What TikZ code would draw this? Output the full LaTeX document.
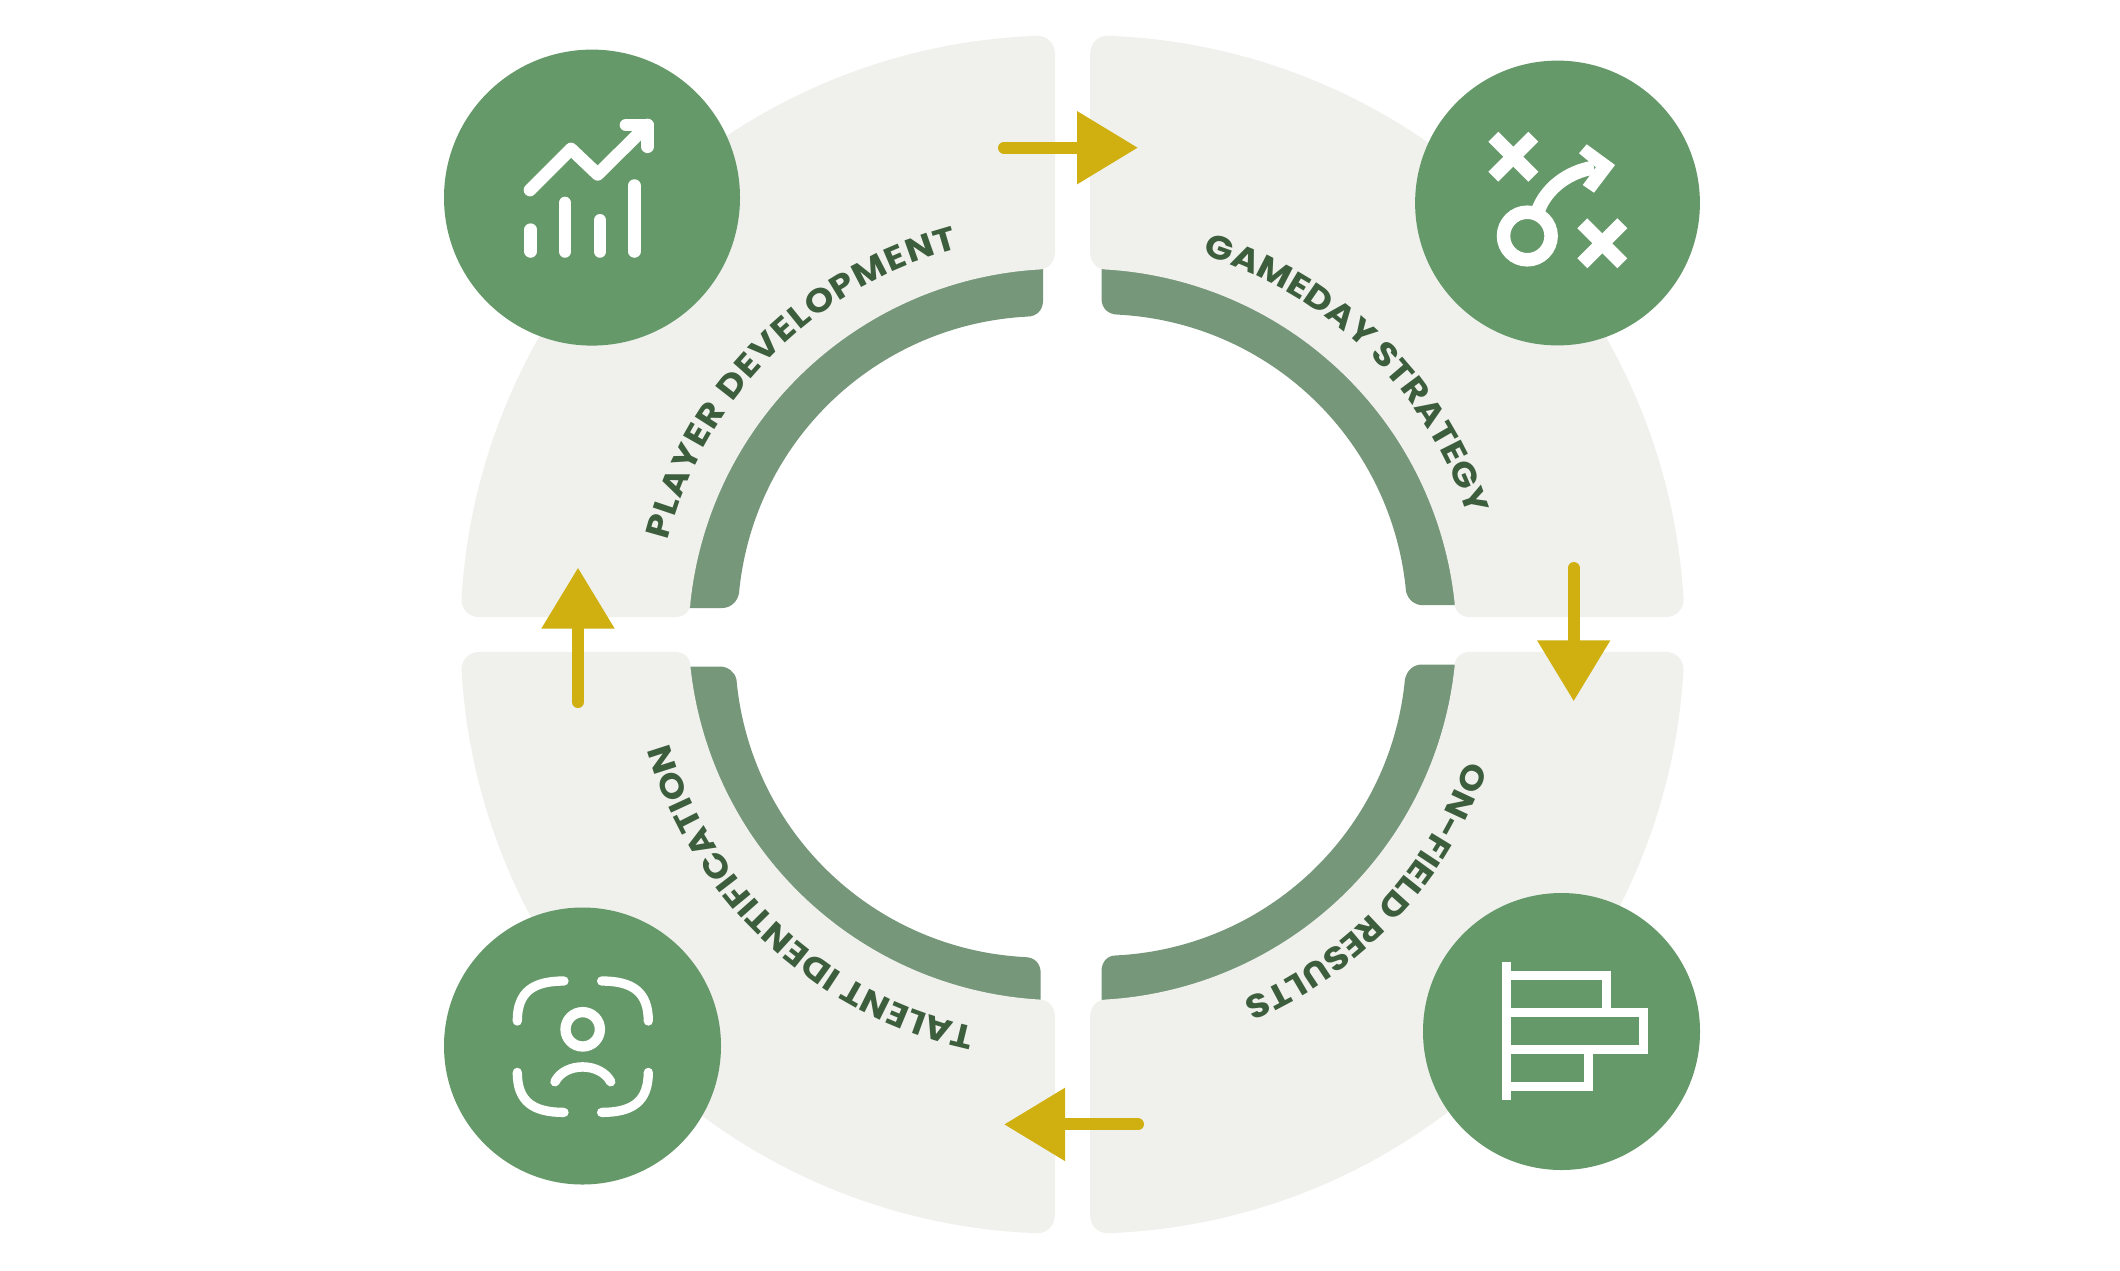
\documentclass[tikz,border=0pt]{standalone}
\usepackage{fontspec}
\usetikzlibrary{arrows.meta,decorations.text}
\newfontfamily\lab[FakeStretch=1.12]{Poppins}
\definecolor{palec}{HTML}{F0F1ED}
\definecolor{darkc}{HTML}{76977A}
\definecolor{circc}{HTML}{659969}
\definecolor{textc}{HTML}{3D5E3D}
\definecolor{goldc}{HTML}{CFB010}
\tikzset{
  arclabel/.style={decorate,decoration={text along path,text align={fit to path},text={|\lab\bfseries\fontsize{33pt}{33pt}\selectfont\color{textc}|#1}}},
  flow/.style={draw=goldc,fill=goldc,line width=12pt,line cap=round,-{Triangle[length=61pt,width=70pt]}},
  icon/.style={draw=white,line width=#1,line cap=round,line join=round},
  iconflat/.style={draw=white,line width=#1,line cap=butt,line join=miter},
}
\newcommand{\paleq}[2]{%
 \fill[palec,shift={(1072.5,634.5)},xscale=#1,yscale=#2]
  (-592.5,-17.4) .. controls (-603.6,-17.4) and (-611,-25) .. (-611,-35.2)
  -- plot[domain=176.73:92.06,samples=70] ({-14+598*cos(\x)},{-1.1-598*sin(\x)})
  .. controls (-24.7,-598.6) and (-17.5,-591) .. (-17.5,-579)
  -- (-17.5,-383.2) .. controls (-17.5,-372.6) and (-23.8,-365.2) .. (-33.3,-365)
  -- plot[domain=93.4:173.77,samples=70] ({-11.2+373*cos(\x)},{7.3-373*sin(\x)})
  .. controls (-381.5,-23.7) and (-388,-17.4) .. (-398,-17.4) -- cycle;}
% sx sy xedge yedge R cx cy a1 a2
\newcommand{\darkq}[9]{%
 \pgfmathsetmacro{\pax}{#6+#5*cos(#8)}\pgfmathsetmacro{\pay}{#7-#5*sin(#8)}%
 \pgfmathsetmacro{\pbx}{#6+#5*cos(#9)}\pgfmathsetmacro{\pby}{#7-#5*sin(#9)}%
 \pgfmathsetmacro{\qax}{-0.6*#3+0.4*\pax}%
 \pgfmathsetmacro{\qby}{0.4*\pby-0.6*#4}%
 \fill[darkc,shift={(1072.5,634.5)},xscale=#1,yscale=#2]
  (-#3,-379) -- (-#3,\pay-16) .. controls (-#3,\pay-6.4) and (\qax,\pay) .. (\pax,\pay)
  -- plot[domain=#8:#9,samples=70] ({#6+#5*cos(\x)},{#7-#5*sin(\x)})
  .. controls (\pbx-1.8,\qby) and (\pbx-8.6,-#4) .. (\pbx-17,-#4) -- (-397,-#4) -- (-330,-330) -- cycle;}
\newcommand{\bracket}[2]{%
 \draw[icon=9.3pt,shift={(582.8,1046.7)},xscale=#1,yscale=#2]
  (-18.8,-65.7) .. controls (-49.5,-65.7) and (-65.5,-55) .. (-65.5,-25.7);}
\begin{document}
\begin{tikzpicture}[x=1pt,y=-1pt]
\useasboundingbox (0,0) rectangle (2120,1270);
\fill[white] (0,0) rectangle (2120,1270);
% dark bands
\darkq{1}{1}{29.5}{26.5}{305}{-29.8}{-13.3}{92.95}{174.75}
\darkq{-1}{1}{29}{29.3}{305}{-29.8}{-15.3}{92.95}{174.75}
\darkq{1}{-1}{31.8}{32}{305.5}{-31.8}{-17.5}{92.95}{174.84}
\darkq{-1}{-1}{29}{30}{305.3}{-28.5}{-16}{92.8}{174.55}
% pale quadrants
\paleq{1}{1}\paleq{-1}{1}\paleq{1}{-1}\paleq{-1}{-1}
% labels
\path[arclabel={PLAYER DEVELOPMENT}] plot[domain=165.8:104.5,samples=90] ({1060+404.5*cos(\x)},{640-404.5*sin(\x)});
\path[arclabel={GAMEDAY STRATEGY}] plot[domain=73:18,samples=90] ({1085+402.5*cos(\x)},{640-402.5*sin(\x)});
\path[arclabel={ON-FIELD RESULTS}] plot[domain=-19:-66,samples=90] ({1085+403*cos(\x)},{629-403*sin(\x)});
\path[arclabel={TALENT IDENTIFICATION}] plot[domain=-102:-163.8,samples=90] ({1060+407*cos(\x)},{629-407*sin(\x)});
% flow arrows
\coordinate (t1) at (1004,147.7);\coordinate (t2) at (1138,147.7);
\coordinate (r1) at (1573.7,568);\coordinate (r2) at (1573.7,701.3);
\coordinate (b1) at (1138,1124.4);\coordinate (b2) at (1004,1124.4);
\coordinate (l1) at (578,702);\coordinate (l2) at (578,567.6);
\draw[flow] (t1) -- (t2);
\draw[flow] (r1) -- (r2);
\draw[flow] (b1) -- (b2);
\draw[flow] (l1) -- (l2);
% circles
\fill[circc] (592,197.6) circle [radius=148pt];
\fill[circc] (1557.5,203) circle [radius=142.4pt];
\fill[circc] (582.5,1046) circle [radius=138.5pt];
\fill[circc] (1561.5,1031.5) circle [radius=138.5pt];
% icon: growth chart
\draw[icon=12.7pt] (530.7,229.7) -- (530.7,251.4);
\draw[icon=12.7pt] (565,203) -- (565,251.4);
\draw[icon=12.7pt] (600,220.3) -- (600,251.4);
\draw[icon=12.7pt] (634.3,185.6) -- (634.3,251.4);
\draw[icon=12.7pt] (530,190) -- (571,149) -- (597.7,174.3) -- (647.5,125);
\draw[icon=12.7pt] (626,125) -- (647.5,125) -- (647.5,146.7);
% icon: play diagram
\draw[iconflat=14pt] (1493.3,136.7) -- (1533.3,176.7);
\draw[iconflat=14pt] (1493.3,176.7) -- (1533.3,136.7);
\draw[iconflat=14pt] (1582.3,223.3) -- (1622.3,263.3);
\draw[iconflat=14pt] (1582.3,263.3) -- (1622.3,223.3);
\draw[white,line width=13.5pt] (1527.3,236) circle [radius=23.8pt];
\draw[iconflat=14pt] (1538.7,209) .. controls (1546,190) and (1566,172) .. (1594,167.5);
\fill[white] (1586.7,144.3) -- (1615,165) -- (1594,192.7) -- (1582.7,185) -- (1596,167.3) -- (1579,153.3) -- cycle;
% icon: face scan
\bracket{1}{1}\bracket{-1}{1}\bracket{1}{-1}\bracket{-1}{-1}
\draw[white,line width=10.3pt] (582.7,1029.3) circle [radius=17.2pt];
\draw[icon=9.5pt] (555,1081.7) .. controls (565,1062) and (600,1062) .. (610.7,1081.7);
% icon: bar ranking
\draw[iconflat=9pt] (1506.5,975.5) rectangle (1606.8,1012.8);
\draw[iconflat=9pt] (1506.5,1012.8) rectangle (1643.2,1049.4);
\draw[iconflat=9pt] (1506.5,1049.4) rectangle (1588.8,1086);
\draw[iconflat=9pt] (1506.5,962) -- (1506.5,1100);
\end{tikzpicture}
\end{document}
